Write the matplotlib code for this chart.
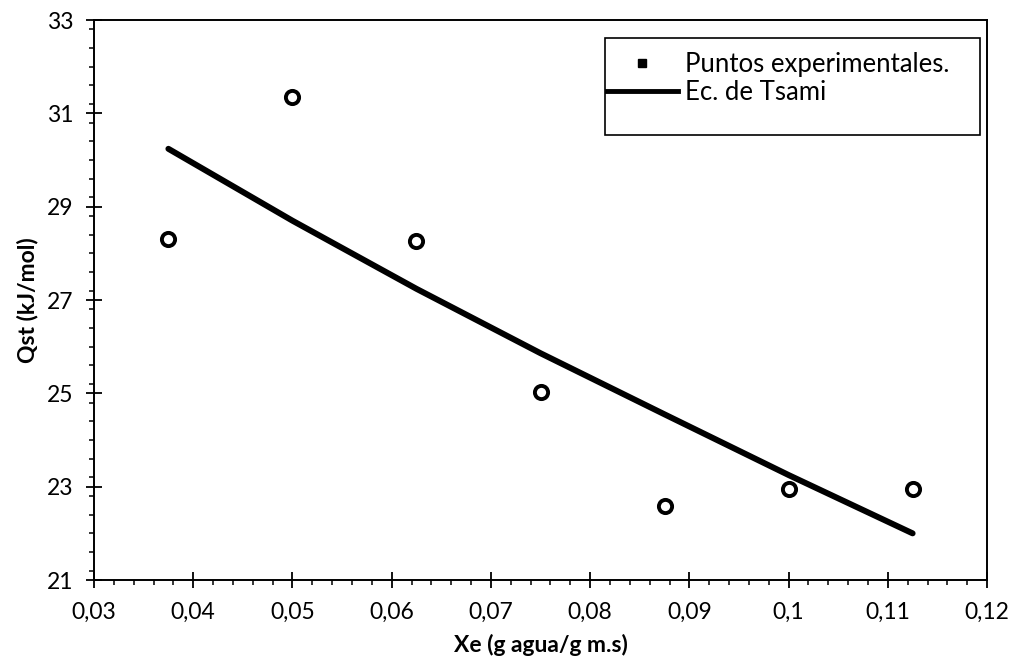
import matplotlib
matplotlib.use("Agg")
import matplotlib.pyplot as plt
from matplotlib.ticker import MultipleLocator, FuncFormatter
from matplotlib.lines import Line2D
from matplotlib.patches import Rectangle
from matplotlib.legend_handler import HandlerLine2D

plt.rcParams['font.family'] = ['Lato', 'DejaVu Sans']

# Experimental isosteric heat points
x_exp = [0.0375, 0.05, 0.0625, 0.075, 0.0875, 0.1, 0.1125]
q_exp = [28.31, 31.35, 28.26, 25.03, 22.59, 22.95, 22.95]

# Tsami equation fit
x_fit = [0.0375, 0.05, 0.0625, 0.075, 0.0875, 0.1, 0.1125]
q_fit = [30.24, 28.70, 27.24, 25.86, 24.55, 23.25, 22.00]

x_ticks = [0.03, 0.04, 0.05, 0.06, 0.07, 0.08, 0.09, 0.10, 0.11, 0.12]
y_ticks = [21, 23, 25, 27, 29, 31, 33]

fig = plt.figure(figsize=(10.16, 6.67), dpi=100)
ax = fig.add_axes([0.0925, 0.1304, 0.879, 0.8396])

ax.plot(x_fit, q_fit, color='black', lw=4.3, solid_capstyle='round', zorder=2)
ax.plot(x_exp, q_exp, ls='none', marker='o', ms=9.5, mfc='white',
        mec='black', mew=2.8, zorder=3)

ax.set_xlim(0.03, 0.12)
ax.set_ylim(21, 33)
ax.set_xticks(x_ticks)
ax.set_yticks(y_ticks)
ax.xaxis.set_minor_locator(MultipleLocator(0.002))
ax.yaxis.set_minor_locator(MultipleLocator(0.4))


def comma_fmt(v, pos):
    s = f"{v:.2f}".rstrip('0').rstrip('.')
    return s.replace('.', ',')


ax.xaxis.set_major_formatter(FuncFormatter(comma_fmt))
ax.yaxis.set_major_formatter(FuncFormatter(lambda v, p: f"{v:.0f}"))

ax.tick_params(which='major', direction='inout', length=11.5, width=1.3,
               labelsize=16.5, colors='black')
ax.tick_params(which='minor', direction='out', length=3.6, width=1.1)
ax.tick_params(axis='y', which='major', pad=9)
ax.tick_params(axis='x', which='major', pad=10)

for s in ax.spines.values():
    s.set_linewidth(1.4)
    s.set_color('black')

ax.set_xlabel('Xe (g agua/g m.s)', fontsize=16.5, fontweight='bold', labelpad=8)
ax.set_ylabel('Qst (kJ/mol)', fontsize=16.5, fontweight='bold', labelpad=6)

# Legend box drawn separately so it can keep its extra space at the bottom
ax.add_patch(Rectangle((0.572, 0.7946), 0.4202, 0.1734, transform=ax.transAxes,
                       fill=True, facecolor='white', edgecolor='black',
                       lw=1.2, zorder=4))


class RightMarkerHandler(HandlerLine2D):
    """Places a marker-only legend handle towards the right of its slot."""

    def get_xdata(self, legend, xdescent, ydescent, width, height, fontsize):
        xdata, _ = super().get_xdata(legend, xdescent, ydescent, width,
                                     height, fontsize)
        return xdata, [-xdescent + 0.75 * width]


marker_handle = Line2D([], [], ls='none', marker='s', ms=5.5, color='black')
line_handle = Line2D([], [], color='black', lw=3.5)
leg = ax.legend([marker_handle, line_handle],
                ['Puntos experimentales.', 'Ec. de Tsami'],
                handler_map={marker_handle: RightMarkerHandler()},
                loc='upper left', bbox_to_anchor=(0.5745, 0.9425),
                fontsize=18.5, frameon=False, borderpad=0.0,
                borderaxespad=0, handlelength=2.75, handletextpad=0.27,
                labelspacing=0.12, markerfirst=True)
leg.set_zorder(5)

fig.savefig('out.png', dpi=100)
